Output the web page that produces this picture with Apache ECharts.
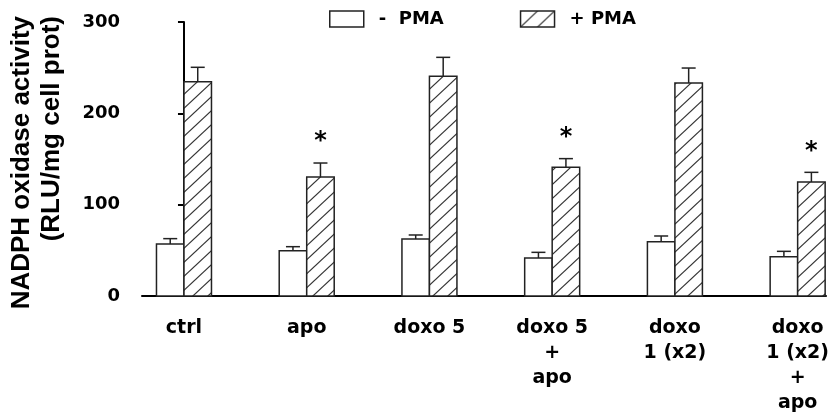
<!DOCTYPE html>
<html>
<head>
<meta charset="utf-8">
<script src="https://cdn.jsdelivr.net/npm/echarts@6/dist/echarts.min.js"></script>
<style>html,body{margin:0;padding:0;background:#fff}#c{width:832px;height:417px}</style>
</head>
<body>
<div id="c"></div>
<script>
// ---- data ----
const categories = ['ctrl', 'apo', 'doxo 5', 'doxo 5\n+\napo', 'doxo\n1 (x2)', 'doxo\n1 (x2)\n+\napo'];
const minusPMA = [57, 49.6, 62.4, 41.6, 59.5, 43.1];
const minusPMAErr = [5.8, 4.4, 4.4, 6.2, 6.2, 5.8];
const plusPMA = [234.6, 130.3, 240.5, 140.9, 233.2, 124.8];
const plusPMAErr = [15.8, 15.3, 20.8, 9.5, 16.4, 10.6];
const significant = [false, true, false, true, false, true];
const yTicks = [0, 100, 200, 300];

// ---- hatch pattern ----
function makeHatch(w, h) {
  const cv = document.createElement('canvas');
  cv.width = w; cv.height = h;
  const ctx = cv.getContext('2d');
  ctx.fillStyle = '#fff';
  ctx.fillRect(0, 0, w, h);
  ctx.strokeStyle = '#333';
  ctx.lineWidth = 1.2;
  for (const dx of [-w, 0, w]) {
    ctx.beginPath();
    ctx.moveTo(dx - 1, h + h / w);
    ctx.lineTo(dx + w + 1, -h / w);
    ctx.stroke();
  }
  return cv;
}
const hatchPattern = { image: makeHatch(15, 14), repeat: 'repeat' };
const legendHatch = { image: makeHatch(17, 16), repeat: 'repeat' };

const BW = 27.5;
const STROKE = '#222';
const FONT = 'DejaVu Sans';

function barRender(side, fill) {
  return function (params, api) {
    const x = api.value(0), v = api.value(1), e = api.value(2);
    const top = api.coord([x, v]);
    const base = api.coord([x, 0]);
    const errTop = api.coord([x, v + e]);
    const left = side < 0 ? top[0] - BW : top[0];
    const cx = left + BW / 2;
    return {
      type: 'group',
      children: [
        { type: 'line', shape: { x1: cx, y1: top[1], x2: cx, y2: errTop[1] }, style: { stroke: STROKE, lineWidth: 1.5 } },
        { type: 'line', shape: { x1: cx - 7, y1: errTop[1], x2: cx + 7, y2: errTop[1] }, style: { stroke: STROKE, lineWidth: 1.5 } },
        { type: 'rect', shape: { x: left, y: top[1], width: BW, height: base[1] - top[1] }, style: { fill: fill, stroke: STROKE, lineWidth: 1.5 } }
      ]
    };
  };
}

const option = {
  animation: false,
  backgroundColor: '#fff',
  grid: { left: 142, right: 6, top: 22, bottom: 121 },
  legend: {
    left: 329, top: 10, padding: 0,
    itemWidth: 34, itemHeight: 16, itemGap: 76,
    textStyle: { fontFamily: FONT, fontWeight: 'bold', fontSize: 18, color: '#000', padding: [0, 0, 0, 10] },
    data: [
      { name: '-  PMA', icon: 'rect', itemStyle: { color: '#fff', borderColor: STROKE, borderWidth: 1.5 } },
      { name: '+ PMA', icon: 'rect', itemStyle: { color: legendHatch, borderColor: STROKE, borderWidth: 1.5 } }
    ]
  },
  graphic: [{
    type: 'text', x: 37, y: 16, rotation: Math.PI / 2,
    style: {
      text: 'NADPH oxidase activity\n(RLU/mg cell prot)',
      font: 'bold 26px "Liberation Sans"', fill: '#000',
      align: 'right', verticalAlign: 'middle', lineHeight: 30
    }
  }],
  xAxis: {
    type: 'value', min: -0.342, max: 5.231,
    axisLine: { show: true, onZero: false, lineStyle: { color: '#000', width: 2 } },
    axisTick: { show: false }, axisLabel: { show: false }, splitLine: { show: false }
  },
  yAxis: {
    type: 'value', min: yTicks[0], max: yTicks[yTicks.length - 1], interval: 100,
    axisLine: { show: true, lineStyle: { color: '#000', width: 2 } },
    axisTick: { show: true, length: 6, lineStyle: { color: '#000', width: 2 } },
    axisLabel: { margin: 22, fontFamily: FONT, fontWeight: 'bold', fontSize: 18, color: '#000' },
    splitLine: { show: false }
  },
  series: [
    {
      name: '-  PMA', type: 'custom', clip: false,
      itemStyle: { color: '#fff', borderColor: STROKE },
      renderItem: barRender(-1, '#fff'),
      encode: { x: 0, y: 1 },
      data: categories.map((c, i) => [i, minusPMA[i], minusPMAErr[i]])
    },
    {
      name: '+ PMA', type: 'custom', clip: false,
      itemStyle: { color: hatchPattern, borderColor: STROKE },
      renderItem: barRender(1, hatchPattern),
      encode: { x: 0, y: 1 },
      data: categories.map((c, i) => [i, plusPMA[i], plusPMAErr[i]])
    },
    {
      name: 'stars', type: 'custom', clip: false, silent: true,
      renderItem: function (params, api) {
        const p = api.coord([api.value(0), api.value(1)]);
        return { type: 'text', x: p[0] + BW / 2, y: p[1] - 21, style: { text: '*', font: 'bold 24px "DejaVu Sans"', fill: '#000', align: 'center', verticalAlign: 'middle' } };
      },
      data: categories.map((c, i) => [i, plusPMA[i] + plusPMAErr[i]]).filter((d, i) => significant[i])
    },
    {
      name: 'labels', type: 'custom', clip: false, silent: true,
      renderItem: function (params, api) {
        const p = api.coord([api.value(0), 0]);
        return { type: 'text', x: p[0], y: p[1] + 20, style: { text: categories[params.dataIndex], font: 'bold 19px "DejaVu Sans"', fill: '#000', align: 'center', verticalAlign: 'top', lineHeight: 25 } };
      },
      data: categories.map((c, i) => [i, 0])
    }
  ]
};
const chart = echarts.init(document.getElementById('c'), null, { renderer: 'canvas' });
chart.setOption(option);
</script>
</body>
</html>
